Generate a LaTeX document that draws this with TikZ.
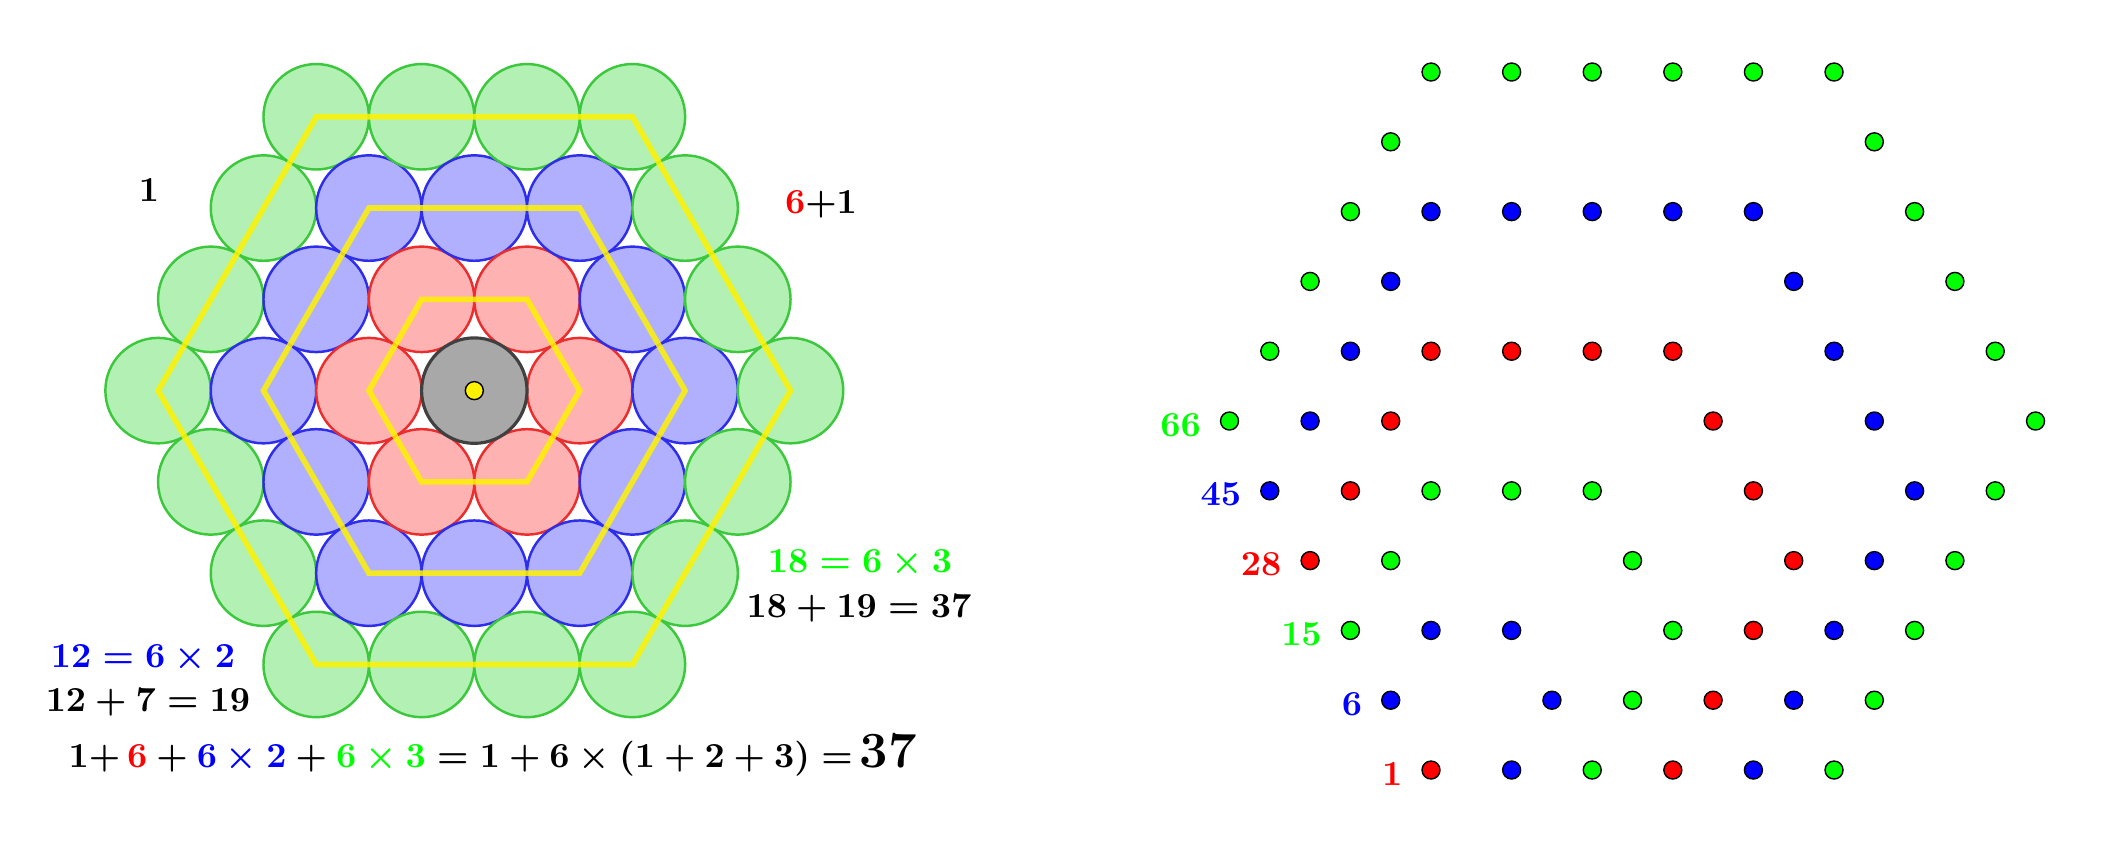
\documentclass[tikz,border=0pt]{standalone}
\usepackage{amsmath}
\definecolor{gfill}{RGB}{179,240,179}
\definecolor{bfill}{RGB}{176,176,255}
\definecolor{rfill}{RGB}{255,178,178}
\definecolor{gline}{RGB}{60,200,60}
\definecolor{bline}{RGB}{45,45,235}
\definecolor{rline}{RGB}{235,45,45}
\begin{document}
\begin{tikzpicture}[x=0.01cm,y=-0.01cm,
  disc/.style={circle,minimum size=1.054cm,inner sep=0,line width=0.7pt},
  ring1/.style={disc,draw=rline,fill=rfill},
  ring2/.style={disc,draw=bline,fill=bfill},
  ring3/.style={disc,draw=gline,fill=gfill},
  hexline/.style={draw=yellow,line width=1.6pt,draw opacity=0.85},
  dot/.style={circle,minimum size=0.18cm,inner sep=0,draw=black,line width=0.4pt},
  eq/.style={inner sep=0,font=\boldmath},
  lab/.style={inner sep=0,font=\boldmath,anchor=base east,xshift=-0.28cm,yshift=-0.15cm}]
\useasboundingbox (0,0) rectangle (2119,844);
% ---- left: hexagonal packing of 37 circles ----
\foreach \a in {-3,...,3}{
  \foreach \b in {-3,...,3}{
    \pgfmathtruncatemacro\hd{(abs(\a)+abs(\b)+abs(\a+\b))/2}
    \ifnum\hd<4 \ifnum\hd>0
      \node[ring\hd] (c\a\b) at ({474.3+(\a+\b/2)*105.4},{390.6-\b*91.28}) {};
    \fi\fi
  }
}
\node[disc,draw=black!75,fill=gray!68,line width=0.9pt] (c00) at (474.3,390.6) {};
\foreach \n in {1,2,3}{
  \draw[hexline] (c\n0.center) -- (c0\n.center) -- (c-\n\n.center) -- (c-\n0.center)
     -- (c0-\n.center) -- (c\n-\n.center) -- cycle;
}
\node[dot,fill=yellow] (cen) at (c00.center) {};
% texts
\node[eq,anchor=base] (t1) at (149,201) {$1$};
\node[eq,anchor=base] (t2) at (821,213) {$\textcolor{red}{6}{+}1$};
\node[eq,anchor=base,text=green] (t3) at (860,572) {$18=6\times3$};
\node[eq,anchor=base] (t4) at (859,617) {$18+19=37$};
\node[eq,anchor=base,text=blue] (t5) at (143,667) {$12=6\times2$};
\node[eq,anchor=base] (t6) at (148,711) {$12+7=19$};
\node[eq,anchor=base west] (t7) at (68,767)
  {$1{+}\,\textcolor{red}{6}+\textcolor{blue}{6\times2}+\textcolor{green}{6\times3}=1+6\times(1+2+3)=\,${\Large$37$}};
% ---- right: spiral of dots ----
\foreach \j/\row in {
 0/{0/red,2/blue,4/green,6/red,8/blue,10/green},
 1/{-1/blue,3/blue,5/green,7/red,9/blue,11/green},
 2/{-2/green,0/blue,2/blue,6/green,8/red,10/blue,12/green},
 3/{-3/red,-1/green,5/green,9/red,11/blue,13/green},
 4/{-4/blue,-2/red,0/green,2/green,4/green,8/red,12/blue,14/green},
 5/{-5/green,-3/blue,-1/red,7/red,11/blue,15/green},
 6/{-4/green,-2/blue,0/red,2/red,4/red,6/red,10/blue,14/green},
 7/{-3/green,-1/blue,9/blue,13/green},
 8/{-2/green,0/blue,2/blue,4/blue,6/blue,8/blue,12/green},
 9/{-1/green,11/green},
 10/{0/green,2/green,4/green,6/green,8/green,10/green}}{
  \foreach \k/\c in \row {
    \node[dot,fill=\c] (d-\j-\k) at ({1431+40.3*\k},{770-69.8*\j}) {};
  }
}
\node[lab,text=red]   (n1)  at (d-0-0.center)  {$1$};
\node[lab,text=blue]  (n6)  at (d-1--1.center) {$6$};
\node[lab,text=green] (n15) at (d-2--2.center) {$15$};
\node[lab,text=red]   (n28) at (d-3--3.center) {$28$};
\node[lab,text=blue]  (n45) at (d-4--4.center) {$45$};
\node[lab,text=green] (n66) at (d-5--5.center) {$66$};
\end{tikzpicture}
\end{document}
